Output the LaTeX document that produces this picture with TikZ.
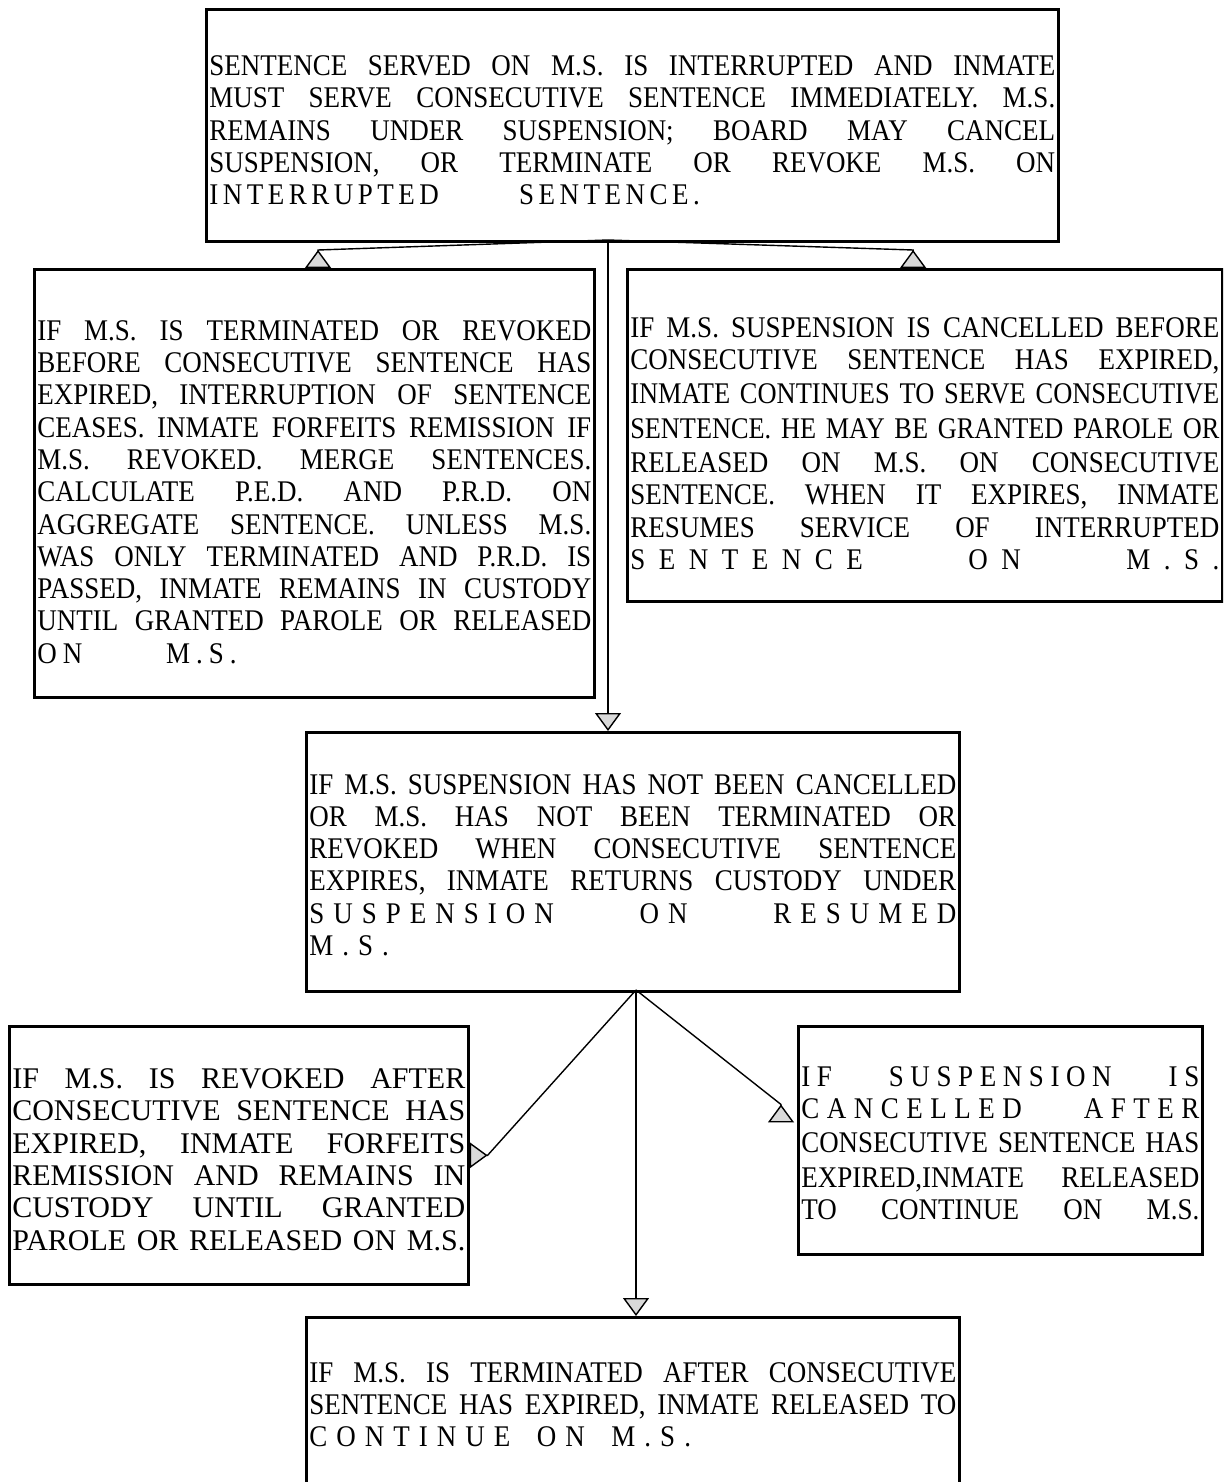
\documentclass[tikz,border=0pt]{standalone}
\usepackage{fontspec}
\setmainfont{Liberation Serif}[FakeStretch=0.9]
\newfontfamily\plainserif{Liberation Serif}
\usepackage{graphicx}
\usetikzlibrary{arrows.meta}

\newsavebox\rowbox
% words of a row with stretchable gaps
\def\spreadwords#1 #2\endwords{#1\if\relax\detokenize{#2}\relax\else\hskip0.2em plus 1fil\relax\spreadwords#2\endwords\fi}
% one justified row; squeezed when it is too long
\newcommand\fullrow[1]{\sbox\rowbox{\strut#1}\leavevmode
  \ifdim\wd\rowbox>\linewidth\resizebox{\linewidth}{\height}{\usebox\rowbox}%
  \else\hbox to\linewidth{\strut\spreadwords#1 \endwords}\fi\par}
% letter-spaced row over part of the width
\newcommand\spacedrow[3]{\leavevmode\hbox to#1\linewidth{\strut\addfontfeature{LetterSpace=#2}\spreadwords#3 \endwords}\par}
\newcommand\plainrow[2]{\leavevmode\hbox{\strut\addfontfeature{LetterSpace=#1}#2}\par}
% extra room above the first row
\newcommand\lift[1]{\rule{0pt}{\dimexpr#1+11.305pt\relax}}

\begin{document}
\begin{tikzpicture}[x=0.5pt,y=-0.5pt,
memo/.style 2 args={draw,rectangle,anchor=north west,line width=1.3pt,inner xsep=1.5pt,inner ysep=0pt,text width=#1,minimum height=#2,font=\fontsize{15}{16.15}\selectfont},
flow/.style={line width=0.7pt,-{Triangle[length=9pt,width=13pt,fill=gray!30]}},
backflow/.style={line width=0.7pt,-{Triangle[reversed,length=9pt,width=13pt,fill=gray!30]}}]

\useasboundingbox (0,0) rectangle (1223,1482);
\clip (0,0) rectangle (1223,1482);

\draw (205,8) node[memo={423pt}{116pt}] (T) {\lift{8.5pt}%
\fullrow{SENTENCE SERVED ON M.S. IS INTERRUPTED AND INMATE}
\fullrow{MUST SERVE CONSECUTIVE SENTENCE IMMEDIATELY. M.S.}
\fullrow{REMAINS UNDER SUSPENSION; BOARD MAY CANCEL}
\fullrow{SUSPENSION, OR TERMINATE OR REVOKE M.S. ON}
\spacedrow{0.58}{15}{INTERRUPTED SENTENCE.}};

\draw (33,268) node[memo={277pt}{214pt}] (L1) {\lift{12pt}%
\fullrow{IF M.S. IS TERMINATED OR REVOKED}
\fullrow{BEFORE CONSECUTIVE SENTENCE HAS}
\fullrow{EXPIRED, INTERRUPTION OF SENTENCE}
\fullrow{CEASES. INMATE FORFEITS REMISSION IF}
\fullrow{M.S. REVOKED. MERGE SENTENCES.}
\fullrow{CALCULATE P.E.D. AND P.R.D. ON}
\fullrow{AGGREGATE SENTENCE. UNLESS M.S.}
\fullrow{WAS ONLY TERMINATED AND P.R.D. IS}
\fullrow{PASSED, INMATE REMAINS IN CUSTODY}
\fullrow{UNTIL GRANTED PAROLE OR RELEASED}
\spacedrow{0.36}{20}{ON M.S.}};

\draw (626,268) node[memo={294.5pt}{166pt}] (R1) {\lift{11.5pt}%
\fullrow{IF M.S. SUSPENSION IS CANCELLED BEFORE}
\fullrow{CONSECUTIVE SENTENCE HAS EXPIRED,}
\fullrow{INMATE CONTINUES TO SERVE CONSECUTIVE}
\fullrow{SENTENCE. HE MAY BE GRANTED PAROLE OR}
\fullrow{RELEASED ON M.S. ON CONSECUTIVE}
\fullrow{SENTENCE. WHEN IT EXPIRES, INMATE}
\fullrow{RESUMES SERVICE OF INTERRUPTED}
\spacedrow{1}{45}{SENTENCE ON M.S.}};

\draw (305,731) node[memo={323.5pt}{129.5pt}] (M) {\lift{6.5pt}%
\fullrow{IF M.S. SUSPENSION HAS NOT BEEN CANCELLED}
\fullrow{OR M.S. HAS NOT BEEN TERMINATED OR}
\fullrow{REVOKED WHEN CONSECUTIVE SENTENCE}
\fullrow{EXPIRES, INMATE RETURNS CUSTODY UNDER}
\spacedrow{1}{30}{SUSPENSION ON RESUMED}
\plainrow{30}{M.S.}};

\draw (8,1025) node[memo={226.5pt}{129pt},font=\plainserif\fontsize{15}{16.15}\selectfont] (L2) {\lift{7.5pt}%
\fullrow{IF M.S. IS REVOKED AFTER}
\fullrow{CONSECUTIVE SENTENCE HAS}
\fullrow{EXPIRED, INMATE FORFEITS}
\fullrow{REMISSION AND REMAINS IN}
\fullrow{CUSTODY UNTIL GRANTED}
\fullrow{PAROLE OR RELEASED ON M.S.}};

\draw (797,1025) node[memo={199pt}{114pt}] (R2) {\lift{6pt}%
\spacedrow{1}{22}{IF SUSPENSION IS}
\spacedrow{1}{25}{CANCELLED AFTER}
\fullrow{CONSECUTIVE SENTENCE HAS}
\fullrow{EXPIRED,INMATE RELEASED}
\fullrow{TO CONTINUE ON M.S.}};

\draw (305,1316) node[memo={323.5pt}{90pt}] (B) {\lift{0.75pt}%
\fullrow{IF M.S. IS TERMINATED AFTER CONSECUTIVE}
\fullrow{SENTENCE HAS EXPIRED, INMATE RELEASED TO}
\spacedrow{0.59}{30}{CONTINUE ON M.S.}};

\coordinate (s1) at (608,240);
\coordinate (s2) at (636,990);

\draw[backflow] (s1) -- ([yshift=9pt]L1.89) -- (L1.89);
\draw[backflow] (s1) -- ([yshift=9pt]R1.94) -- (R1.94);
\draw[flow] (s1) -- (s1 |- M.north);
\draw[backflow] (s2) -- ([xshift=9pt]L2.east) -- (L2.east);
\draw[backflow] (s2) -- ([xshift=-8pt]R2.170) -- ([xshift=-8pt,yshift=-9pt]R2.170);
\draw[flow] (s2) -- (s2 |- B.north);
\end{tikzpicture}
\end{document}
